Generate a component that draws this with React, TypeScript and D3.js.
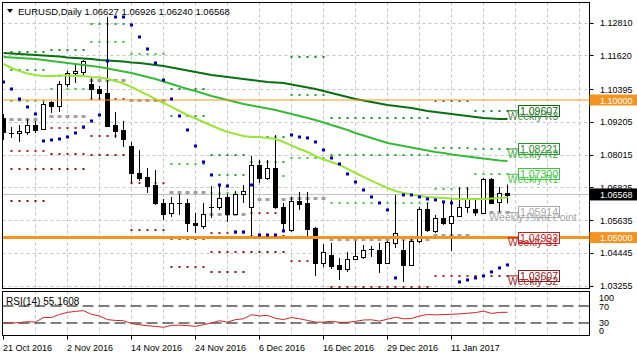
import React from "react";
import * as d3 from "d3";

const dateTicks = ["21 Oct 2016", "2 Nov 2016", "14 Nov 2016", "24 Nov 2016", "6 Dec 2016", "16 Dec 2016", "29 Dec 2016", "11 Jan 2017"];
const priceTicks = [1.1281, 1.1162, 1.10395, 1.09205, 1.08015, 1.06825, 1.05635, 1.04445, 1.03255];
const rsiTicks = ["100", "70", "30", "0"];

const open = [1.09347, 1.08795, 1.08802, 1.08839, 1.09093, 1.08948, 1.09929, 1.09783, 1.10583, 1.10982, 1.11019, 1.10583, 1.10401, 1.10256, 1.09093, 1.08911, 1.0833, 1.07348, 1.07203, 1.06912, 1.06259, 1.05896, 1.0625, 1.06259, 1.05532, 1.05423, 1.06105, 1.06114, 1.06477, 1.05859, 1.06586, 1.06114, 1.07639, 1.07166, 1.0753, 1.06114, 1.05278, 1.06332, 1.06259, 1.0535, 1.04078, 1.04369, 1.04006, 1.0386, 1.04224, 1.04296, 1.0458, 1.04551, 1.04078, 1.04805, 1.04551, 1.04006, 1.04877, 1.06041, 1.05241, 1.05714, 1.05532, 1.05787, 1.06114, 1.06041, 1.05896, 1.0713, 1.06295, 1.06627];
const high = [1.09492, 1.0902, 1.09093, 1.09311, 1.09238, 1.09929, 1.0996, 1.10692, 1.11055, 1.11273, 1.1145, 1.10801, 1.1051, 1.13017, 1.09565, 1.09238, 1.08475, 1.08184, 1.0753, 1.07458, 1.06404, 1.06477, 1.06586, 1.06404, 1.05896, 1.06259, 1.06876, 1.06912, 1.06586, 1.06694, 1.06912, 1.07967, 1.07821, 1.07821, 1.0873, 1.06259, 1.06477, 1.06659, 1.06659, 1.05387, 1.04768, 1.04805, 1.0426, 1.04478, 1.04877, 1.04732, 1.04696, 1.04805, 1.04877, 1.06549, 1.04914, 1.0495, 1.06114, 1.06259, 1.05823, 1.06259, 1.0644, 1.06839, 1.06839, 1.06368, 1.07166, 1.07166, 1.06839, 1.06926];
const low = [1.08548, 1.08621, 1.08475, 1.0873, 1.08802, 1.08911, 1.09529, 1.09565, 1.10474, 1.10619, 1.1091, 1.10038, 1.10038, 1.0904, 1.08621, 1.08293, 1.06985, 1.07057, 1.06622, 1.06186, 1.05641, 1.0575, 1.05823, 1.05205, 1.05168, 1.05314, 1.05714, 1.06005, 1.05568, 1.05823, 1.06259, 1.05023, 1.06985, 1.07094, 1.06041, 1.05241, 1.05205, 1.06005, 1.0495, 1.03606, 1.03933, 1.0386, 1.0346, 1.03751, 1.04187, 1.04224, 1.04296, 1.03715, 1.04042, 1.04623, 1.03388, 1.03969, 1.04805, 1.05205, 1.05168, 1.05459, 1.04514, 1.0575, 1.05896, 1.05787, 1.05859, 1.06223, 1.05932, 1.0624];
const close = [1.08839, 1.0881, 1.08875, 1.09093, 1.08911, 1.09856, 1.09783, 1.10583, 1.10982, 1.11055, 1.11418, 1.10401, 1.10256, 1.09057, 1.08875, 1.08584, 1.07348, 1.07166, 1.06876, 1.06259, 1.05859, 1.06259, 1.06259, 1.05532, 1.05459, 1.05859, 1.06114, 1.0644, 1.05859, 1.06586, 1.06694, 1.07639, 1.07166, 1.0753, 1.06114, 1.05532, 1.06332, 1.06223, 1.05314, 1.04078, 1.04478, 1.03969, 1.0386, 1.04224, 1.04333, 1.04551, 1.04586, 1.04078, 1.04841, 1.05168, 1.04006, 1.04877, 1.06041, 1.05278, 1.05714, 1.05532, 1.05787, 1.06114, 1.06404, 1.05932, 1.0713, 1.06259, 1.06622, 1.06568];

const maSlow = [1.11709, 1.11691, 1.11673, 1.11655, 1.11637, 1.11618, 1.116, 1.11582, 1.11546, 1.11527, 1.11509, 1.11491, 1.11454, 1.11436, 1.11418, 1.114, 1.11364, 1.11345, 1.11309, 1.11273, 1.11236, 1.11182, 1.11127, 1.11073, 1.11018, 1.10964, 1.10909, 1.10873, 1.10837, 1.108, 1.10764, 1.10728, 1.10691, 1.10655, 1.10637, 1.10619, 1.10564, 1.1051, 1.10455, 1.10401, 1.10328, 1.10255, 1.10183, 1.1011, 1.10037, 1.09983, 1.09928, 1.09874, 1.09819, 1.09783, 1.09747, 1.0971, 1.09656, 1.09601, 1.09565, 1.09529, 1.09492, 1.09456, 1.0942, 1.09383, 1.09347, 1.09329, 1.09311, 1.09311];
const maMid = [1.11564, 1.11545, 1.11527, 1.11509, 1.11491, 1.11454, 1.11418, 1.11382, 1.11345, 1.11309, 1.11273, 1.11236, 1.112, 1.11146, 1.11091, 1.11037, 1.10982, 1.10909, 1.10837, 1.10764, 1.10673, 1.10582, 1.10492, 1.10401, 1.10328, 1.10237, 1.10146, 1.10074, 1.10001, 1.09928, 1.09856, 1.09801, 1.09747, 1.09692, 1.09638, 1.09565, 1.09492, 1.0942, 1.09347, 1.09274, 1.09183, 1.09093, 1.09002, 1.08911, 1.08802, 1.08711, 1.0862, 1.08529, 1.08439, 1.08384, 1.0833, 1.08275, 1.0822, 1.08166, 1.08111, 1.08075, 1.08021, 1.07984, 1.07948, 1.07912, 1.07875, 1.07839, 1.07803, 1.07785];
const maFast = [1.11309, 1.11164, 1.11055, 1.10964, 1.10909, 1.10873, 1.10873, 1.10891, 1.10891, 1.10873, 1.10873, 1.10837, 1.10819, 1.10764, 1.10691, 1.10601, 1.10473, 1.10328, 1.10183, 1.10037, 1.09892, 1.09747, 1.09601, 1.09456, 1.09329, 1.09202, 1.09074, 1.08947, 1.08838, 1.08766, 1.08693, 1.08657, 1.08657, 1.0862, 1.08584, 1.08475, 1.08348, 1.0822, 1.08111, 1.07966, 1.07839, 1.07748, 1.07639, 1.07494, 1.07348, 1.07203, 1.07058, 1.06931, 1.06804, 1.06695, 1.06622, 1.06568, 1.06513, 1.06477, 1.06459, 1.06441, 1.06423, 1.06404, 1.06404, 1.06404, 1.06404, 1.06423, 1.06441, 1.06459];

const sar = [1.10655, 1.10401, 1.10038, 1.09747, 1.09492, 1.08512, 1.08548, 1.08584, 1.08657, 1.08802, 1.0902, 1.09238, 1.09456, 1.11418, 1.13017, 1.13017, 1.12727, 1.12291, 1.11855, 1.11346, 1.10728, 1.10038, 1.0942, 1.08911, 1.0833, 1.07748, 1.07276, 1.06912, 1.06876, 1.05205, 1.05205, 1.06912, 1.05096, 1.05096, 1.05096, 1.05241, 1.0873, 1.08657, 1.08621, 1.08475, 1.08184, 1.07894, 1.07676, 1.07312, 1.07021, 1.0673, 1.06477, 1.06259, 1.06005, 1.03533, 1.06549, 1.06549, 1.06477, 1.06404, 1.06368, 1.06295, 1.06259, 1.03388, 1.0346, 1.03533, 1.03606, 1.03751, 1.03897, 1.04006];

const rsi = [30, 30, 31, 33, 32, 43, 43, 50, 55, 57.5, 59, 50.5, 46.5, 38, 36, 35.5, 28.5, 26, 23.5, 22, 20, 24.5, 25, 24, 22, 26, 30, 35.5, 32, 38, 40, 49.5, 46.5, 48, 41, 38, 43, 40, 36, 32, 32, 34, 31.5, 31.5, 34, 37, 37.5, 34.5, 39, 43.5, 40, 40.5, 46.5, 50, 49, 50, 50.5, 51.5, 53, 54.5, 58, 52.5, 55, 55.1608];

// weekly pivot levels (first bar, last bar of each pivot period)
const weekStart = [1, 6, 11, 16, 21, 26, 31, 36, 41, 54, 59];
const weekEnd = [5, 10, 15, 20, 25, 30, 35, 40, 53, 58, 63];
const pivR3 = [1.11745, 1.11818, null, null, 1.10401, 1.08003, 1.08657, 1.11564, 1.09347, 1.09965, 1.09607];
const pivR2 = [1.11091, 1.10873, 1.12763, null, 1.0942, 1.07276, 1.07748, 1.10183, 1.08003, 1.08257, 1.08221];
const pivR1 = [1.09965, 1.10401, 1.12109, 1.11673, 1.07676, 1.06622, 1.0724, 1.07894, 1.06259, 1.06767, 1.073];
const pivPP = [1.09311, 1.0942, 1.10728, 1.10001, 1.06659, 1.05859, 1.06404, 1.0644, 1.0495, 1.05096, 1.05914];
const pivS1 = [1.08148, 1.08984, 1.10037, 1.06985, 1.0495, 1.05168, 1.05896, 1.04151, 1.03206, 1.03606, 1.04993];
const pivS2 = [1.07494, 1.08039, 1.08693, 1.05278, 1.03933, 1.04478, 1.0506, null, null, null, 1.03607];
const pivS3 = [1.06332, 1.07494, 1.08003, null, null, 1.03751, 1.04478, null, null, null, null];

const levelNames = ["Weekly R3", "Weekly R2", "Weekly R1", "Weekly Pivot Point", "Weekly S1", "Weekly S2"];
const hLines = [1.1, 1.05];
const lastPrice = 1.06568;

const FONT = "'Liberation Sans', Arial, sans-serif";

export default function App() {
  const L = 2.5, R = 589.5, T = 2.5, B = 288.5, RT = 291.5, RB = 335.5;
  const x = d3.scaleLinear().domain([0, 63]).range([3.5, 507.5]);
  const y = d3.scaleLinear().domain([1.03255, 1.1281]).range([285.6, 22.7]);
  const ry = d3.scaleLinear().domain([0, 100]).range([335.75, 293.25]);
  const n = close.length;
  const idx = d3.range(n);
  const line = (arr: number[]) => d3.line<number>().x((i) => x(i)).y((i) => y(arr[i]))(idx) || "";
  const rsiPath = d3.line<number>().x((i) => x(i)).y((i) => ry(rsi[i]))(idx) || "";
  const vGrid = d3.range(4, 73, 4);

  const levelSets = [pivR3, pivR2, pivR1, pivPP, pivS1, pivS2, pivS3];
  const dotColors = ["#1f8a2a", "#2aa032", "#3cc43c", "#a0a0a0", "#b02020", "#8b1a1a", "#7a1010"];
  const boxColors = ["#0b6b0b", "#2e8b2e", "#3cc43c", "#a8a8a8", "#c02020", "#8b1a1a"];
  const nameColors = ["#4f8a4f", "#3caa3c", "#48c848", "#a8a8a8", "#c02828", "#9a2020"];

  const inMain = (v: number) => v >= T + 1 && v <= B - 1;

  return (
    <svg width={637} height={358} style={{ position: "fixed", left: 0, top: 0, background: "#fff" }} fontFamily={FONT}>
      <defs>
        <clipPath id="mainClip"><rect x={L} y={T} width={R - L} height={B - T} /></clipPath>
        <clipPath id="rsiClip"><rect x={L} y={RT} width={R - L} height={RB - RT} /></clipPath>
      </defs>
      <rect x={0} y={0} width={637} height={358} fill="#fff" />
      {/* grid */}
      <g stroke="#c4c4c4" strokeWidth={1} strokeDasharray="3,3">
        {priceTicks.map((p, i) => (
          <line key={"hg" + i} x1={L} x2={R} y1={Math.round(y(p)) + 0.5} y2={Math.round(y(p)) + 0.5} />
        ))}
        {vGrid.map((i) => (
          <line key={"vg" + i} x1={x(i)} x2={x(i)} y1={T} y2={B} />
        ))}
        {vGrid.map((i) => (
          <line key={"vr" + i} x1={x(i)} x2={x(i)} y1={RT} y2={RB} />
        ))}
      </g>
      <g clipPath="url(#mainClip)">
        {/* pivot dots */}
        {levelSets.map((arr, li) =>
          weekStart.map((ws, wi) => {
            const v = arr[wi];
            if (v === null || !inMain(y(v))) return null;
            return d3.range(ws, weekEnd[wi] + 1).map((b) =>
              li === 3 ? (
                <rect key={`p${li}-${wi}-${b}`} x={x(b) - 2} y={Math.round(y(v)) - 1} width={4} height={3} fill={dotColors[li]} />
              ) : (
                <rect key={`p${li}-${wi}-${b}`} x={x(b) - 1} y={Math.round(y(v)) - 1} width={2} height={2} fill={dotColors[li]} />
              )
            );
          })
        )}
        {/* current price line */}
        <line x1={L} x2={R} y1={y(lastPrice)} y2={y(lastPrice)} stroke="#c0c0c0" strokeWidth={1} />
        {/* candles */}
        {idx.map((i) => {
          const up = close[i] >= open[i];
          const top = y(Math.max(open[i], close[i]));
          const bot = y(Math.min(open[i], close[i]));
          const cx = x(i);
          return (
            <g key={"c" + i}>
              <line x1={cx} x2={cx} y1={y(high[i])} y2={y(low[i])} stroke="#000" strokeWidth={1} />
              {bot - top < 1.2 ? (
                <line x1={cx - 2.5} x2={cx + 2.5} y1={Math.round(top) + 0.5} y2={Math.round(top) + 0.5} stroke="#000" />
              ) : (
                <rect x={cx - 2} y={Math.round(top) + 0.5} width={4} height={Math.max(1, Math.round(bot - top))} fill={up ? "#fff" : "#000"} stroke="#000" strokeWidth={1} />
              )}
            </g>
          );
        })}
        {/* moving averages */}
        <path d={line(maSlow)} fill="none" stroke="#0a6e12" strokeWidth={2} />
        <path d={line(maMid)} fill="none" stroke="#3ab83a" strokeWidth={2} />
        <path d={line(maFast)} fill="none" stroke="#9be43c" strokeWidth={2} />
        {/* horizontal levels */}
        <line x1={L} x2={R} y1={y(hLines[0])} y2={y(hLines[0])} stroke="#f29422" strokeWidth={1} />
        <line x1={L} x2={R} y1={y(hLines[1])} y2={y(hLines[1])} stroke="#f29422" strokeWidth={3} />
        {/* parabolic SAR */}
        {idx.map((i) => (
          <rect key={"s" + i} x={x(i) - 1.5} y={y(sar[i]) - 1.5} width={3} height={3} fill="#0000b8" />
        ))}
        {/* weekly labels */}
        {[0, 1, 2, 3, 4, 5].map((li) => {
          const v = levelSets[li][weekStart.length - 1] as number;
          const yy = y(v);
          return (
            <g key={"wl" + li}>
              <line x1={x(63)} x2={518.5} y1={yy} y2={yy} stroke={boxColors[li]} strokeWidth={1} />
              <rect x={518.5} y={Math.round(yy) - 5.5} width={41} height={11} fill="#fff" stroke={boxColors[li]} strokeWidth={1} />
              <text x={539} y={yy + 4} textAnchor="middle" fontSize={10.5} fill={boxColors[li]}>{d3.format(".5f")(v)}</text>
              <text x={533} y={yy + 8.7} textAnchor="middle" fontSize={10.5} fill={nameColors[li]}>{levelNames[li]}</text>
            </g>
          );
        })}
      </g>
      {/* RSI panel */}
      <g clipPath="url(#rsiClip)">
        <line x1={L} x2={R} y1={ry(70)} y2={ry(70)} stroke="#000" strokeDasharray="11,5" />
        <line x1={L} x2={R} y1={ry(30)} y2={ry(30)} stroke="#000" strokeDasharray="11,5" />
        <path d={rsiPath} fill="none" stroke="#c02828" strokeWidth={1} />
      </g>
      <text x={6} y={305} fontSize={10} fill="#000">RSI(14) 55.1608</text>
      {/* frames */}
      <rect x={L} y={T} width={R - L} height={B - T} fill="none" stroke="#000" />
      <rect x={L} y={RT} width={R - L} height={RB - RT} fill="none" stroke="#000" />
      {/* header */}
      <path d="M7,9 L13,9 L10,13 Z" fill="#000" />
      <text x={18} y={14.5} fontSize={9.5} fill="#000">EURUSD,Daily  1.06627 1.06926 1.06240 1.06568</text>
      {/* right axis */}
      {priceTicks.map((p, i) => (
        <g key={"pt" + i}>
          <line x1={R} x2={R + 4} y1={Math.round(y(p)) + 0.5} y2={Math.round(y(p)) + 0.5} stroke="#000" />
          <text x={600} y={y(p) + 3.5} fontSize={9} fill="#000">{d3.format(".5f")(p)}</text>
        </g>
      ))}
      {hLines.map((p, i) => (
        <g key={"hl" + i}>
          <rect x={R} y={y(p) - 5.5} width={637 - R} height={11} fill="#f29422" />
          <text x={600} y={y(p) + 3.5} fontSize={9} fill="#fff">{d3.format(".5f")(p)}</text>
        </g>
      ))}
      <rect x={R} y={y(lastPrice) - 6} width={637 - R} height={12} fill="#000" />
      <text x={600} y={y(lastPrice) + 3.5} fontSize={9} fill="#fff">{d3.format(".5f")(lastPrice)}</text>
      {/* RSI axis labels */}
      {rsiTicks.map((t, i) => (
        <text key={"rt" + i} x={599} y={[301, 310, 326, 333.5][i]} fontSize={9} fill="#000">{t}</text>
      ))}
      {/* date axis */}
      {dateTicks.map((t, k) => (
        <g key={"dt" + k}>
          <line x1={x(k * 8)} x2={x(k * 8)} y1={RB} y2={RB + 4} stroke="#000" />
          <text x={x(k * 8) - 0.5} y={350.5} fontSize={9} fill="#000">{t}</text>
        </g>
      ))}
    </svg>
  );
}
